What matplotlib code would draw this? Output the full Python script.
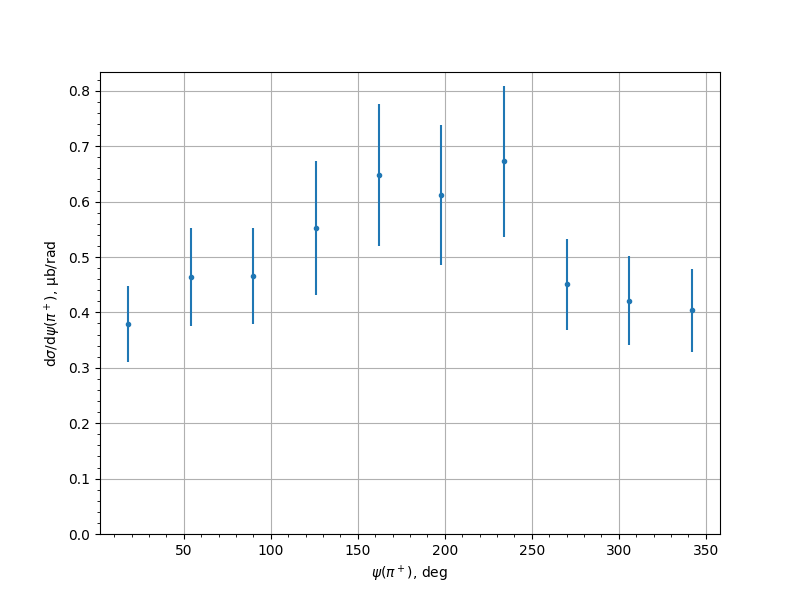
import matplotlib.pyplot as plt

psi = [18, 54, 90, 126, 162, 198, 234, 270, 306, 342]
dsig = [0.379, 0.464, 0.466, 0.552, 0.648, 0.612, 0.673, 0.451, 0.421, 0.404]
err = [0.069, 0.088, 0.087, 0.121, 0.129, 0.126, 0.136, 0.082, 0.080, 0.075]

fig, ax = plt.subplots(figsize=(8, 6), dpi=100)
ax.errorbar(psi, dsig, yerr=err, fmt='.')
ax.set_ylim(bottom=0)
ax.minorticks_on()
ax.grid(True)
ax.set_xlabel(r'$\psi(\pi^+)$, deg')
ax.set_ylabel(r'd$\sigma$/d$\psi(\pi^+)$, μb/rad')
fig.savefig('out.png')
